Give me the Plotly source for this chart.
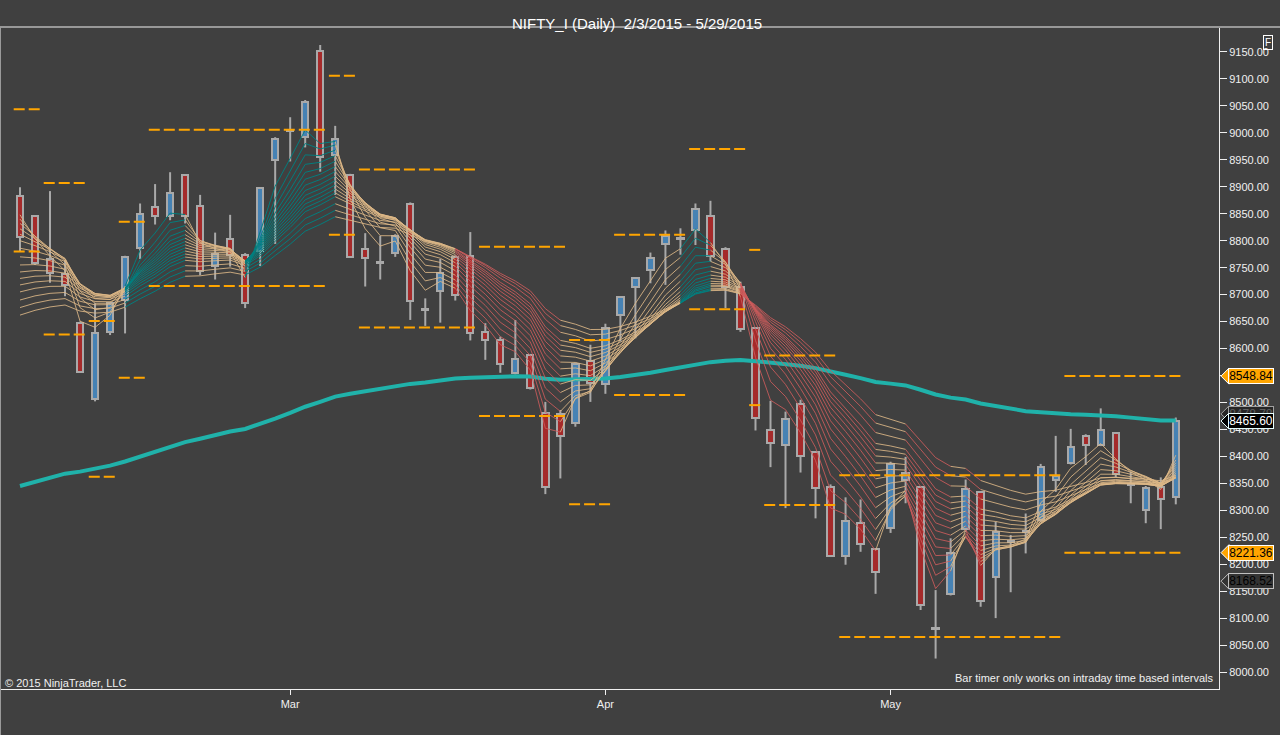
import plotly.graph_objects as go

# daily bars, index 0 = Feb 3 2015, last = May 29 2015
opens = [8883, 8845, 8766, 8738, 8647, 8506, 8630, 8690, 8786, 8862,
         8846, 8921, 8865, 8753, 8803, 8773, 8781, 8950, 9006, 8993,
         9151, 8959, 8922, 8785, 8760, 8778, 8868, 8674, 8707, 8770,
         8772, 8631, 8616, 8554, 8588, 8481, 8479, 8462, 8577, 8534,
         8662, 8714, 8746, 8793, 8805, 8820, 8846, 8785, 8715, 8639,
         8448, 8421, 8498, 8408, 8344, 8216, 8277, 8228, 8268, 8356,
         8343, 8081, 8144, 8265, 8333, 8177, 8243, 8261, 8282, 8356,
         8387, 8438, 8421, 8443, 8348, 8300, 8344, 8325]
highs = [8899, 8846, 8892, 8764, 8650, 8684, 8686, 8772, 8869, 8905,
         8927, 8923, 8885, 8815, 8848, 8777, 8899, 8992, 9029, 9061,
         9163, 9013, 8924, 8814, 8809, 8812, 8871, 8693, 8766, 8773,
         8816, 8647, 8622, 8653, 8590, 8501, 8486, 8574, 8607, 8646,
         8696, 8732, 8778, 8819, 8823, 8869, 8874, 8788, 8724, 8640,
         8503, 8483, 8505, 8410, 8348, 8324, 8320, 8230, 8390, 8399,
         8345, 8152, 8248, 8357, 8335, 8279, 8254, 8294, 8386, 8438,
         8451, 8441, 8489, 8445, 8372, 8345, 8361, 8472]
lows = [8781, 8755, 8722, 8697, 8555, 8502, 8625, 8628, 8766, 8830,
        8838, 8832, 8736, 8728, 8752, 8675, 8753, 8794, 8947, 8973,
        8928, 8885, 8768, 8715, 8728, 8770, 8653, 8642, 8648, 8689,
        8615, 8579, 8555, 8552, 8524, 8330, 8359, 8455, 8501, 8516,
        8613, 8619, 8721, 8718, 8774, 8792, 8761, 8675, 8631, 8448,
        8380, 8304, 8370, 8285, 8214, 8199, 8223, 8145, 8258, 8313,
        8115, 8025, 8142, 8260, 8121, 8100, 8148, 8220, 8278, 8334,
        8385, 8384, 8419, 8361, 8313, 8276, 8265, 8311]
closes = [8807, 8759, 8740, 8717, 8557, 8628, 8684, 8770, 8849, 8846,
          8888, 8846, 8743, 8775, 8773, 8684, 8897, 8988, 9004, 9058,
          8955, 8988, 8770, 8767, 8758, 8809, 8689, 8672, 8741, 8699,
          8629, 8616, 8571, 8581, 8526, 8344, 8438, 8571, 8536, 8638,
          8695, 8730, 8768, 8809, 8803, 8858, 8772, 8715, 8636, 8471,
          8425, 8469, 8401, 8341, 8216, 8281, 8237, 8185, 8386, 8369,
          8124, 8079, 8220, 8339, 8132, 8259, 8241, 8259, 8381, 8364,
          8417, 8421, 8448, 8367, 8346, 8342, 8321, 8465.60]

month_ticks = [18, 39, 58]
month_names = ["Mar", "Apr", "May"]

# price axis ticks; 8550 sits fully under the orange marker
price_ticks = list(range(8000, 9151, 50))
price_labels = ["" if v == 8550 else f"{v:.2f}" for v in price_ticks]

# EMA ribbon: periods and their values on the first bar
ribbon_periods = [3, 4, 5, 6, 7, 8, 9, 10, 11, 12, 13, 14, 15, 17, 19, 21]
ribbon_start = [8848, 8840, 8832, 8822, 8812, 8800, 8786, 8770,
                8755, 8742, 8730, 8718, 8705, 8690, 8676, 8662]
# ribbon colour runs (segment ending bar, inclusive)
ribbon_run_colors = ["tan", "teal", "tan", "teal", "tan", "red", "tan", "teal",
                     "tan", "red", "tan", "red", "tan", "red", "tan"]
ribbon_run_ends = [7, 11, 15, 21, 29, 36, 44, 46, 48, 57, 59, 62, 63, 64, 77]

trend_period = 100
trend_start = 8345

# orange levels: first bar, last bar, upper, lower
level_first = [0, 2, 5, 7, 9, 21, 23, 31, 37, 40, 45, 49, 50, 55, 70]
level_last = [1, 4, 6, 8, 20, 22, 30, 36, 39, 44, 48, 49, 54, 69, 77]
level_upper = [9044, 8907, 8651, 8835, 9006, 9106, 8932, 8789, 8616, 8811,
               8970, 8783, 8587, 8365, 8548.84]
level_lower = [8780, 8626, 8362, 8546, 8716, 8811, 8639, 8475, 8311, 8514,
               8673, 8495, 8310, 8065, 8221.36]

# price markers on the right axis (drawn in this order)
marker_prices = [8478.78, 8548.84, 8221.36, 8168.52, 8465.60]
marker_fill = ["#262626", "#FFA500", "#FFA500", "#333333", "#000000"]
marker_edge = ["#A0A0A0", "#FFFFFF", "#FFFFFF", "#C0C0C0", "#E8FFFF"]
marker_text = ["#606060", "#000000", "#000000", "#000000", "#FFFFFF"]

BG = "#404040"
FONT = "Liberation Sans, Arial, sans-serif"

# plot area spans pixels x 1..1219, y 28..689
X0, X1 = -1.266, 79.88
Y0, Y1 = 7968.5, 9194.5


def px_x(p):
    return (p - 1) / 1218.0


def px_y(p):
    return (689 - p) / 661.0


def ema(values, period, start):
    a = 2.0 / (period + 1)
    out = [start]
    for v in values[1:]:
        out.append(out[-1] + a * (v - out[-1]))
    return out


n = len(closes)
idx = list(range(n))

fig = go.Figure()

# candle bodies
body_base = [min(o, c) for o, c in zip(opens, closes)]
body_h = [abs(c - o) for o, c in zip(opens, closes)]
body_col = ["#4682B4" if c >= o else "#A52A2A" for o, c in zip(opens, closes)]
fig.add_trace(go.Bar(
    x=idx, y=body_h, base=body_base, width=0.42,
    marker=dict(color=body_col, line=dict(color="#A9A9A9", width=2)),
    hoverinfo="skip", showlegend=False))

# wicks (above and below the body only)
wx, wy = [], []
for i in idx:
    top = max(opens[i], closes[i])
    bot = min(opens[i], closes[i])
    if highs[i] > top:
        wx += [i, i, None]
        wy += [highs[i], top, None]
    if lows[i] < bot:
        wx += [i, i, None]
        wy += [bot, lows[i], None]
fig.add_trace(go.Scatter(x=wx, y=wy, mode="lines",
                         line=dict(color="#A9A9A9", width=2),
                         hoverinfo="skip", showlegend=False))

# long trend EMA
trend = ema(closes, trend_period, trend_start)
fig.add_trace(go.Scatter(x=idx, y=trend, mode="lines",
                         line=dict(color="#20B2AA", width=4),
                         hoverinfo="skip", showlegend=False))

# ribbon
ribbon = [ema(closes, p, s) for p, s in zip(ribbon_periods, ribbon_start)]
runs = {"tan": [], "teal": [], "red": []}
s = 1
for c, e in zip(ribbon_run_colors, ribbon_run_ends):
    runs[c].append((s - 1, e))
    s = e + 1
ribbon_colors = {"tan": "rgba(222,184,135,0.85)",
                 "teal": "rgba(0,128,128,0.95)",
                 "red": "rgba(205,92,92,0.85)"}
for c in ["tan", "teal", "red"]:
    xs, ys = [], []
    for line in ribbon:
        for a, b in runs[c]:
            xs += list(range(a, b + 1)) + [None]
            ys += line[a:b + 1] + [None]
    fig.add_trace(go.Scatter(x=xs, y=ys, mode="lines",
                             line=dict(color=ribbon_colors[c], width=1),
                             hoverinfo="skip", showlegend=False))

# orange dashed levels
lx, ly = [], []
for a, b, u, l in zip(level_first, level_last, level_upper, level_lower):
    for v in (u, l):
        lx += [a - 0.42, b + 0.46, None]
        ly += [v, v, None]
fig.add_trace(go.Scatter(x=lx, y=ly, mode="lines",
                         line=dict(color="#FFA500", width=2, dash="11px,4px"),
                         hoverinfo="skip", showlegend=False))

shapes = [
    dict(type="line", xref="paper", yref="paper", x0=-0.01, x1=1.06,
         y0=px_y(27), y1=px_y(27), line=dict(color="#F0F0F0", width=1)),
    dict(type="line", xref="paper", yref="paper", x0=px_x(0.5), x1=px_x(0.5),
         y0=px_y(27), y1=px_y(735), line=dict(color="#9A9A9A", width=1)),
]
annotations = [
    dict(text="NIFTY_I (Daily)\u00a0\u00a02/3/2015 - 5/29/2015", xref="paper", yref="paper",
         x=px_x(637), y=px_y(13), showarrow=False,
         font=dict(family=FONT, size=15, color="#FFFFFF")),
    dict(text="F", xref="paper", yref="paper", x=px_x(1273), y=px_y(35),
         showarrow=False, bordercolor="#FFFFFF", borderwidth=1, borderpad=1,
         font=dict(family=FONT, size=10, color="#FFFFFF")),
    dict(text="\u00a9 2015 NinjaTrader, LLC", xref="paper", yref="paper",
         x=px_x(3), y=px_y(683), xanchor="left", yanchor="middle", showarrow=False,
         font=dict(family=FONT, size=11, color="#F0F0F0")),
    dict(text="Bar timer only works on intraday time based intervals", xref="paper",
         yref="paper", x=px_x(1215), y=px_y(678), xanchor="right", yanchor="middle",
         showarrow=False, font=dict(family=FONT, size=11, color="#F0F0F0")),
]

# axis price markers: arrow tip as a shape, box as an annotation (covers tick labels)
ppp = (Y1 - Y0) / 661.0  # price per pixel
for p, f, e, t in zip(marker_prices, marker_fill, marker_edge, marker_text):
    h = 8.0 * ppp
    xt, xb = px_x(1221), px_x(1229)
    path = f"M {xt},{p} L {xb},{p + h} L {xb},{p - h} Z"
    shapes.append(dict(type="path", xref="paper", yref="y", path=path,
                       fillcolor=f, line=dict(color=e, width=1), layer="above"))
    annotations.append(dict(text=f"{p:.2f}", xref="paper", yref="y",
                            x=px_x(1228), y=p, xanchor="left", yanchor="middle",
                            showarrow=False, width=44, height=14, align="center",
                            bgcolor=f, bordercolor=e, borderwidth=1, borderpad=0,
                            font=dict(family=FONT, size=12, color=t)))

fig.update_layout(
    width=1280, height=735,
    margin=dict(l=1, r=61, t=28, b=46, autoexpand=False),
    paper_bgcolor=BG, plot_bgcolor=BG,
    bargap=0, showlegend=False,
    shapes=shapes, annotations=annotations,
    xaxis=dict(range=[X0, X1], showgrid=False, zeroline=False,
               showline=True, linecolor="#F0F0F0", linewidth=1,
               ticks="outside", ticklen=5, tickcolor="#F0F0F0",
               tickvals=month_ticks, ticktext=month_names,
               tickfont=dict(family=FONT, size=11, color="#F0F0F0")),
    yaxis=dict(range=[Y0, Y1], side="right", showgrid=False, zeroline=False,
               showline=True, linecolor="#F0F0F0", linewidth=1,
               ticks="outside", ticklen=7, tickcolor="#F0F0F0",
               tickvals=price_ticks, ticktext=price_labels,
               tickfont=dict(family=FONT, size=11, color="#F0F0F0")),
)

fig.write_html("out.html", config={"displayModeBar": False},
               post_script="document.body.style.margin='0';"
                           "document.body.style.overflow='hidden';")
